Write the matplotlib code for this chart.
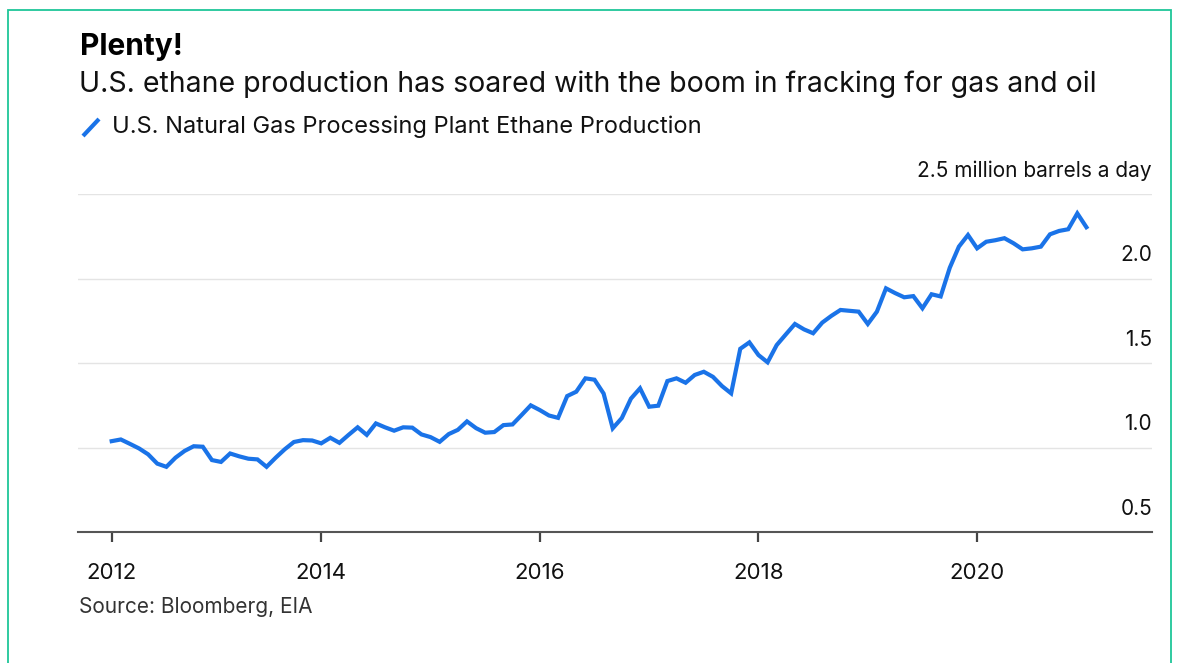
import matplotlib.pyplot as plt
import numpy as np
from matplotlib.patches import Rectangle
from matplotlib.lines import Line2D

# monthly ethane output, million barrels a day, Feb 2012 .. Jan 2021
ethane = [
    1.038, 1.048, 1.022, 0.995, 0.960, 0.905, 0.886, 0.940, 0.980, 1.008, 1.005,
    0.926, 0.915, 0.965, 0.948, 0.934, 0.930, 0.886, 0.940, 0.990, 1.033, 1.044,
    1.042, 1.025, 1.058, 1.028, 1.075, 1.120, 1.075, 1.143, 1.120, 1.100, 1.120,
    1.118, 1.078, 1.062, 1.034, 1.080, 1.105, 1.155, 1.115, 1.088, 1.092, 1.133,
    1.137, 1.193, 1.250, 1.222, 1.190, 1.176, 1.305, 1.331, 1.410, 1.402, 1.320,
    1.114, 1.175, 1.290, 1.351, 1.242, 1.248, 1.394, 1.410, 1.384, 1.430, 1.449,
    1.419, 1.364, 1.321, 1.585, 1.623, 1.548, 1.505, 1.607, 1.670, 1.732, 1.700,
    1.677, 1.740, 1.780, 1.815, 1.810, 1.805, 1.732, 1.805, 1.943, 1.915, 1.890,
    1.897, 1.825, 1.908, 1.895, 2.065, 2.190, 2.259, 2.180, 2.219, 2.228, 2.240,
    2.210, 2.174, 2.180, 2.190, 2.263, 2.283, 2.293, 2.387, 2.305,
]
year_labels = ['2012', '2014', '2016', '2018', '2020']
year_ticks = [0, 23, 47, 71, 95]   # month index of each labelled year
y_levels = [0.5, 1.0, 1.5, 2.0, 2.5]
y_labels = ['0.5', '1.0', '1.5', '2.0', '2.5 million barrels a day']

BLUE = '#1a73e8'
DARK = '#111111'
W, H = 1179, 663

plt.rcParams['font.family'] = ['Inter', 'Liberation Sans', 'DejaVu Sans']

fig = plt.figure(figsize=(W / 100, H / 100), dpi=100)
fig.patch.set_facecolor('white')

def fx(px):
    return px / W

def fy(py):
    return 1 - py / H

# green frame
fig.patches.append(Rectangle((fx(8), fy(700)), fx(1171) - fx(8), fy(10) - fy(700),
                             transform=fig.transFigure, fill=False,
                             edgecolor='#1fc699', linewidth=1.3))

ax = fig.add_axes([fx(78), fy(532), fx(1152) - fx(78), fy(194.3) - fy(532)])
x = np.arange(len(ethane))
ax.plot(x, ethane, color=BLUE, linewidth=3.0, solid_joinstyle='miter', zorder=3)

ax.set_xlim(-3.7, 114.2)
ax.set_ylim(0.5, 2.5)

for lv in y_levels[1:]:
    ax.axhline(lv, color='#e4e4e4', linewidth=1.0, zorder=1)
for lv, lab in zip(y_levels, y_labels):
    ax.annotate(lab, xy=(1.0, lv), xycoords=('axes fraction', 'data'),
                xytext=(0, 12.5), textcoords='offset points',
                ha='right', va='baseline', fontsize=15, color=DARK)

for side in ['top', 'right', 'left']:
    ax.spines[side].set_visible(False)
ax.spines['bottom'].set_color('#555555')
ax.spines['bottom'].set_linewidth(1.5)
ax.set_yticks([])
ax.set_xticks(year_ticks)
ax.set_xticklabels(year_labels, fontsize=16, color=DARK)
ax.tick_params(axis='x', which='major', direction='out', length=7, width=1.6,
               color='#444444', pad=15, bottom=True)

# headings
fig.text(fx(80), fy(47), 'Plenty!', fontsize=21.5, fontweight='bold',
         color='black', va='center', ha='left')
fig.text(fx(79), fy(84), 'U.S. ethane production has soared with the boom in fracking for gas and oil',
         fontsize=20.5, color=DARK, va='center', ha='left')
fig.lines.append(Line2D([fx(83), fx(99)], [fy(136), fy(119)], transform=fig.transFigure,
                        color=BLUE, linewidth=3.0, solid_capstyle='butt'))
fig.text(fx(112), fy(127), 'U.S. Natural Gas Processing Plant Ethane Production',
         fontsize=17, color=DARK, va='center', ha='left')
fig.text(fx(79), fy(607), 'Source: Bloomberg, EIA', fontsize=15,
         color='#333333', va='center', ha='left')

fig.savefig('out.png', dpi=100, facecolor='white')
